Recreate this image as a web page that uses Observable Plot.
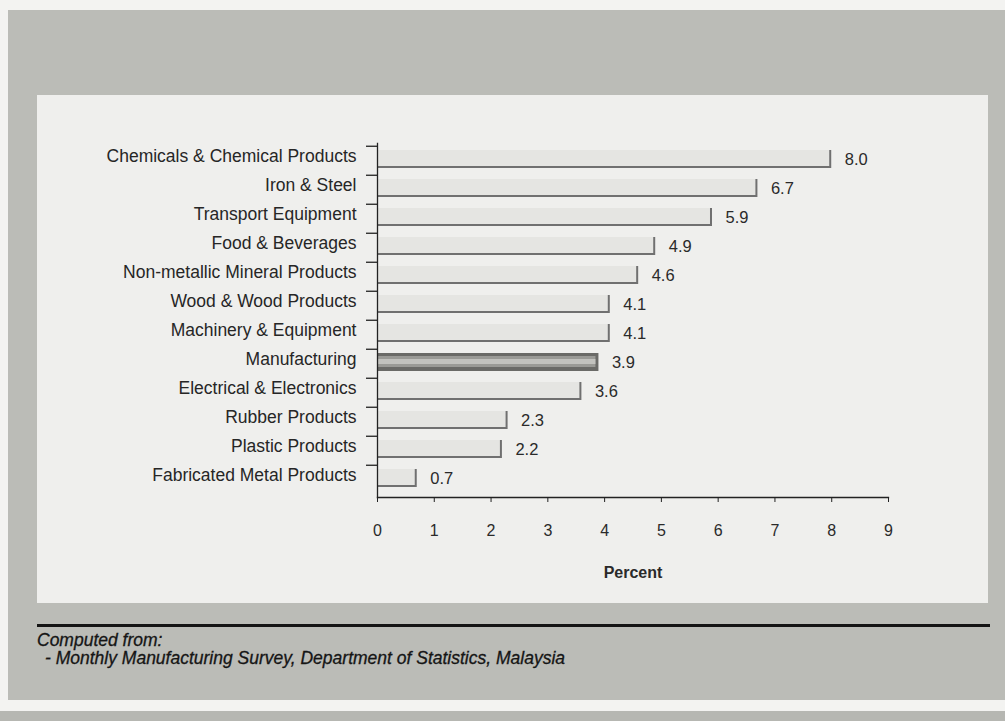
<!DOCTYPE html>
<html>
<head>
<meta charset="utf-8">
<script src="https://cdn.jsdelivr.net/npm/d3@7"></script>
<script src="https://cdn.jsdelivr.net/npm/@observablehq/plot@0.6"></script>
<style>
  html, body { margin: 0; padding: 0; }
  body { width: 1005px; height: 721px; position: relative; overflow: hidden;
         background: #f3f3f1; font-family: "Liberation Sans", Arial, sans-serif; }
  .sheet { position: absolute; left: 8px; top: 10px; width: 997px; height: 690px; background: #bbbcb7; }
  .sheet-bottom { position: absolute; left: 0; top: 711px; width: 1005px; height: 10px; background: #b6b7b2; }
  .panel { position: absolute; left: 37px; top: 95px; width: 951px; height: 508px; background: #efefed; }
  .rule { position: absolute; left: 37px; top: 624px; width: 953px; height: 3px; background: #141414; }
  .source { position: absolute; left: 37px; top: 631px; font-style: italic; font-size: 17.5px;
            line-height: 18px; color: #151515; -webkit-text-stroke: 0.3px #151515; }
  .source .item { padding-left: 8px; }
  #chart { position: absolute; left: 37px; top: 95px; }
</style>
</head>
<body>
<div class="sheet"></div>
<div class="sheet-bottom"></div>
<div class="panel"></div>
<div id="chart"></div>
<div class="rule"></div>
<div class="source">
  <div>Computed from:</div>
  <div class="item">- Monthly Manufacturing Survey, Department of Statistics, Malaysia</div>
</div>
<script>
// Growth by industry, in percent
const industries = [
  "Chemicals & Chemical Products",
  "Iron & Steel",
  "Transport Equipment",
  "Food & Beverages",
  "Non-metallic Mineral Products",
  "Wood & Wood Products",
  "Machinery & Equipment",
  "Manufacturing",
  "Electrical & Electronics",
  "Rubber Products",
  "Plastic Products",
  "Fabricated Metal Products"
];
const percent = [8.0, 6.7, 5.9, 4.9, 4.6, 4.1, 4.1, 3.9, 3.6, 2.3, 2.2, 0.7];
const xTicks = [0, 1, 2, 3, 4, 5, 6, 7, 8, 9];
const highlight = "Manufacturing";

const rows = industries.map((name, i) => ({name, value: percent[i], total: name === highlight}));
const sectors = rows.filter(d => !d.total);
const overall = rows.filter(d => d.total);

const width = 951, height = 508;
const marginTop = 48, marginBottom = 106;
const bandwidth = (height - marginTop - marginBottom) / industries.length;

const chart = Plot.plot({
  width, height,
  marginLeft: 340, marginRight: 100, marginTop, marginBottom,
  style: {background: "transparent", fontFamily: "Liberation Sans, Arial, sans-serif", fontSize: "16px", color: "#262626"},
  x: {domain: [0, 9]},
  y: {domain: industries, padding: 0},
  marks: [
    // sector bars: dark bottom and right edge under a pale face
    Plot.barX(sectors, {x: "value", y: "name", fill: "#707070", insetTop: 4, insetBottom: 7}),
    Plot.barX(sectors, {x: "value", y: "name", fill: "#e5e5e2", insetTop: 4, insetBottom: 9, insetRight: 2}),
    // all-manufacturing bar in darker grey
    Plot.barX(overall, {x: "value", y: "name", fill: "#6a6a67", insetTop: 4, insetBottom: 7}),
    Plot.barX(overall, {x: "value", y: "name", fill: "#9a9a96", insetTop: 7, insetBottom: 11, insetRight: 3}),
    Plot.barX(overall, {x: "value", y: "name", fill: "#c2c2be", insetTop: 10, insetBottom: 14, insetRight: 3}),
    // value labels
    Plot.text(rows, {x: "value", y: "name", text: d => d.value.toFixed(1), textAnchor: "start",
                     dx: 13, dy: -1, fill: "#2a2a2a", fontSize: 16.5}),
    // axis lines
    Plot.frame({anchor: "left", stroke: "#222", strokeWidth: 1.3}),
    Plot.frame({anchor: "bottom", stroke: "#222", strokeWidth: 1.3}),
    // y ticks sit between categories
    Plot.ruleY(industries, {y: d => d, x1: 0, x2: 0, insetLeft: -11, dy: -bandwidth / 2, stroke: "#222", strokeWidth: 1.3}),
    Plot.axisY({tickSize: 0, tickPadding: 21, dy: -5, fontSize: 17.5, fill: "#262626", label: null}),
    Plot.axisX({ticks: xTicks, tickSize: 5, tickPadding: 22, fontSize: 16, fill: "#2a2a2a", stroke: "#222",
                label: "Percent", labelAnchor: "center", labelArrow: "none", labelOffset: 80,
                fontWeight: "normal"})
  ]
});
document.getElementById("chart").append(chart);
// axis title is set in bold
chart.querySelectorAll("text").forEach(t => { if (t.textContent === "Percent") t.setAttribute("font-weight", "bold"); });
</script>
</body>
</html>
